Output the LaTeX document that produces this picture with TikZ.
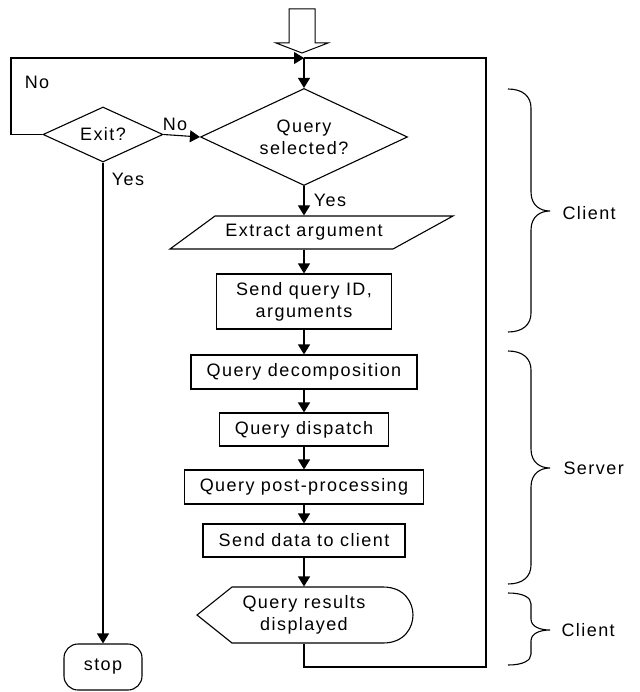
\documentclass[tikz,border=0pt]{standalone}
\usepackage{fontspec}
\setmainfont{Liberation Sans}[LetterSpace=8]
\usetikzlibrary{arrows.meta,shapes.geometric}
\newcommand\sidebrace[4]{%
  \draw (508,#1) .. controls (523,#1) and (531,#1+0.4*#4) .. (531,#1+#4)
    -- (531,#2-#4) .. controls (531,#2-0.3*#4) and (540,#2) .. (550,#2)
    .. controls (540,#2) and (531,#2+0.3*#4) .. (531,#2+#4)
    -- (531,#3-#4) .. controls (531,#3-0.4*#4) and (523,#3) .. (508,#3);}
\begin{document}
\begin{tikzpicture}[x=1pt,y=-1pt,line width=1.1pt,
  font=\fontsize{18}{22}\selectfont,
  box/.style={draw,rectangle,inner sep=0pt,align=center},
  txt/.style={inner sep=0pt,align=center},
  dia/.style={draw,diamond,aspect=2.1,inner sep=0pt,align=center},
  arr/.style={-{Triangle[length=10pt,width=12pt]}},
  lbl/.style={inner sep=0pt,anchor=west}]
\useasboundingbox (0,0) rectangle (639,692);

% entry block arrow
\draw[line width=1pt,fill=white] (289,9) -- (315,9) -- (315,43) -- (328,43) -- (302,53) -- (276,43) -- (289,43) -- cycle;

\coordinate (top) at (304,58);
\coordinate (lt) at (11,58);
\coordinate (rc) at (486,667);

\node[dia,minimum width=120,minimum height=55] (exit) at (103,134.5) {Exit?};
\node[dia,minimum width=207,minimum height=97] (qs) at (304,137) {Query\\selected?};

\draw (170,249) -- (215,216) -- (453,216) -- (393,249) -- cycle;
\node[txt,minimum height=33] (ext) at (304,232.5) {Extract argument};

\node[box,minimum width=175,minimum height=55] (send) at (304,301.5) {Send query ID,\\arguments};
\node[box,minimum width=226,minimum height=34] (dec) at (304,372) {Query decomposition};
\node[box,minimum width=169,minimum height=33] (dis) at (304,429.5) {Query dispatch};
\node[box,minimum width=239,minimum height=34] (post) at (304,487) {Query post-processing};
\node[box,minimum width=202,minimum height=33] (sdc) at (304,540.5) {Send data to client};

\draw (197,615) -- (232,587) -- (383,587) .. controls (405,587) and (413,603) .. (413,615)
  .. controls (413,627) and (405,643) .. (383,643) -- (232,643) -- cycle;
\node[txt,minimum height=56] (res) at (304,615) {Query results\\displayed};

\node[draw,rectangle,rounded corners=14pt,minimum width=78,minimum height=46,inner sep=0pt] (stop) at (103,667) {stop};

% connectors
\draw[arr] (exit.west) -| (lt) -- (top);
\draw[arr] (top) -- (qs.north);
\draw[arr] (exit.east) -- (qs.west);
\draw[arr] (exit.south) -- (stop.north);
\draw[arr] (qs.south) -- (ext.north);
\draw[arr] (ext.south) -- (send.north);
\draw[arr] (send.south) -- (dec.north);
\draw[arr] (dec.south) -- (dis.north);
\draw[arr] (dis.south) -- (post.north);
\draw[arr] (post.south) -- (sdc.north);
\draw[arr] (sdc.south) -- (res.north);
\draw (res.south) |- (rc) |- (top);

% labels
\node[txt] (no1) at (37,82) {No};
\node[txt] (no2) at (175,124) {No};
\node[txt] (yes1) at (128,179) {Yes};
\node[txt] (yes2) at (330,200) {Yes};

% braces
\sidebrace{89}{211}{332}{19}
\sidebrace{351}{468}{584}{19}
\sidebrace{593}{630}{665}{11}
\node[lbl] (c1) at (562,213) {Client};
\node[lbl] (sv) at (563,468) {Server};
\node[lbl] (c2) at (561,630) {Client};
\end{tikzpicture}
\end{document}
